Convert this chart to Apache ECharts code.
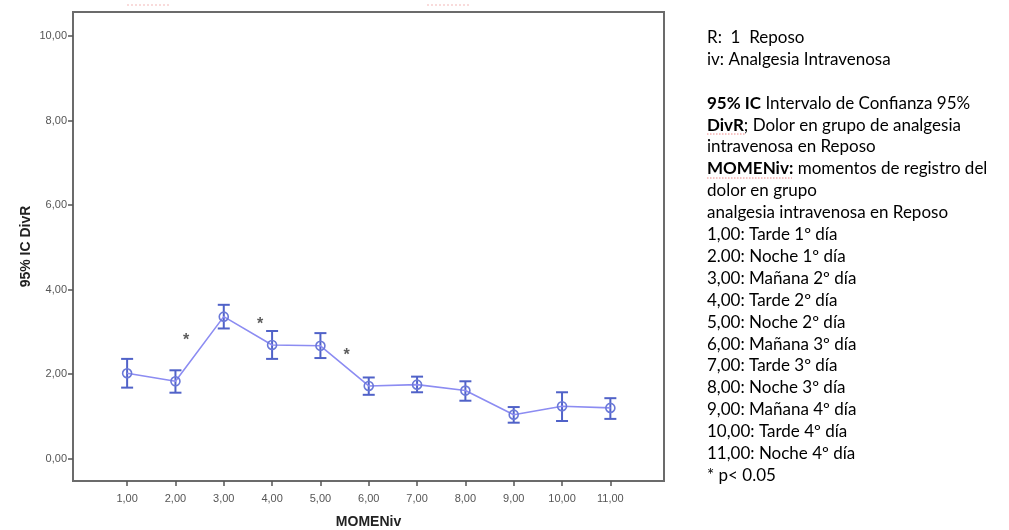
<!DOCTYPE html>
<html>
<head>
<meta charset="utf-8">
<script src="https://cdn.jsdelivr.net/npm/echarts@6/dist/echarts.min.js"></script>
<style>html,body{margin:0;padding:0;background:#fff;}#c{width:1009px;height:530px;}</style>
</head>
<body>
<div id="c"></div>
<script>
const moments = [1,2,3,4,5,6,7,8,9,10,11];
const means = [2.02,1.83,3.36,2.69,2.67,1.72,1.75,1.61,1.04,1.24,1.20];
const upper = [2.36,2.09,3.64,3.02,2.97,1.92,1.94,1.83,1.22,1.57,1.43];
const lower = [1.68,1.56,3.08,2.36,2.38,1.51,1.57,1.37,0.85,0.89,0.94];
const yTicks = [0,2,4,6,8,10];
const sigX = [2.22,3.75,5.54];
const sigY = [2.88,3.27,2.54];
const legendLines = [
  [['blue','R:  1  Reposo']],
  [['n','iv: Analgesia Intravenosa']],
  [['n','']],
  [['b','95% IC'],['n',' Intervalo de Confianza 95%']],
  [['b','DivR'],['n','; Dolor en grupo de analgesia']],
  [['n','intravenosa en Reposo']],
  [['b','MOMENiv:'],['n',' momentos de registro del']],
  [['n','dolor en grupo']],
  [['n','analgesia intravenosa en Reposo']],
  [['n','1,00: Tarde 1º día']],
  [['n','2.00: Noche 1º día']],
  [['n','3,00: Mañana 2º día']],
  [['n','4,00: Tarde 2º día']],
  [['n','5,00: Noche 2º día']],
  [['n','6,00: Mañana 3º día']],
  [['n','7,00: Tarde 3º día']],
  [['n','8,00: Noche 3º día']],
  [['n','9,00: Mañana 4º día']],
  [['n','10,00: Tarde 4º día']],
  [['n','11,00: Noche 4º día']],
  [['n','* p< 0.05']]
];

const fmt = v => v.toFixed(2).replace('.', ',');
const chart = echarts.init(document.getElementById('c'));
const legendText = legendLines.map(l => l.map(([s,t]) => t === '' ? '{n| }' : '{' + s + '|' + t + '}').join('')).join('\n');
const FONT = 'Lato, "Open Sans", sans-serif';
const lineCol = '#8c8cf2';
const barCol = '#5062c8';
const FS = 17;
const squiggle = (x1, x2, y) => ({ type: 'line', shape: { x1: x1, y1: y, x2: x2, y2: y }, style: { stroke: '#e88', lineWidth: 1, lineDash: [1.5, 1.5] } });

chart.setOption({
  animation: false,
  backgroundColor: '#fff',
  grid: { left: 73, top: 12, right: 345, bottom: 49, containLabel: false, outerBoundsMode: 'none', show: true, borderColor: '#6b6b6b', borderWidth: 2, backgroundColor: '#fff' },
  xAxis: {
    type: 'value', min: -0.12, max: 12.11,
    name: 'MOMENiv', nameLocation: 'middle', nameGap: 34,
    nameTextStyle: { fontFamily: 'Liberation Sans, Arial', fontWeight: 'bold', fontSize: 14, color: '#222' },
    axisLine: { show: false, onZero: false },
    splitLine: { show: false },
    axisTick: { show: true, length: 5, customValues: moments, lineStyle: { color: '#555', width: 1.5 } },
    axisLabel: { customValues: moments, formatter: fmt, color: '#555', fontFamily: 'Liberation Sans, Arial', fontSize: 11, margin: 12 }
  },
  yAxis: {
    type: 'value', min: -0.53, max: 10.57,
    name: '95% IC DivR', nameLocation: 'middle', nameGap: 40, nameRotate: 90, nameMoveOverlap: false,
    nameTextStyle: { fontFamily: 'Liberation Sans, Arial', fontWeight: 'bold', fontSize: 14, color: '#222' },
    axisLine: { show: false, onZero: false },
    splitLine: { show: false },
    axisTick: { show: true, length: 5, customValues: yTicks, lineStyle: { color: '#555', width: 1.5 } },
    axisLabel: { customValues: yTicks, formatter: fmt, color: '#555', fontFamily: 'Liberation Sans, Arial', fontSize: 11, margin: 6 }
  },
  series: [
    {
      type: 'custom',
      data: moments.map((m, i) => [m, lower[i], upper[i]]),
      renderItem: (params, api) => {
        const lo = api.coord([api.value(0), api.value(1)]);
        const hi = api.coord([api.value(0), api.value(2)]);
        const hw = 6;
        const st = { stroke: barCol, lineWidth: 2, fill: null };
        return { type: 'group', children: [
          { type: 'line', shape: { x1: hi[0], y1: hi[1], x2: lo[0], y2: lo[1] }, style: st },
          { type: 'line', shape: { x1: hi[0]-hw, y1: hi[1], x2: hi[0]+hw, y2: hi[1] }, style: st },
          { type: 'line', shape: { x1: lo[0]-hw, y1: lo[1], x2: lo[0]+hw, y2: lo[1] }, style: st }
        ]};
      },
      z: 3
    },
    {
      type: 'line',
      data: moments.map((m, i) => [m, means[i]]),
      symbol: 'circle', symbolSize: 9, showAllSymbol: true,
      lineStyle: { color: lineCol, width: 1.6 },
      itemStyle: { color: 'rgba(255,255,255,0)', borderColor: '#6a78d8', borderWidth: 1.6 },
      z: 4
    },
    {
      type: 'scatter',
      data: sigX.map((x, i) => [x, sigY[i]]),
      symbolSize: 0.1,
      label: { show: true, position: 'inside', formatter: '*', fontSize: 16, fontWeight: 'bold', color: '#333', fontFamily: 'Liberation Sans, Arial', offset: [0, 4] },
      z: 5
    }
  ],
  graphic: [
    {
      type: 'text', left: 707, top: 29,
      style: {
        text: legendText,
        rich: {
          n: { fontFamily: FONT, fontSize: FS, color: '#262626', lineHeight: 21.9 },
          b: { fontFamily: FONT, fontSize: FS, fontWeight: 'bold', color: '#1a1a1a', lineHeight: 21.9 },
          blue: { fontFamily: FONT, fontSize: FS, color: '#5b8fd0', lineHeight: 21.9 }
        }
      }
    },
    squiggle(707, 745, 134),
    squiggle(707, 792, 178),
    { type: 'line', shape: { x1: 127, y1: 5, x2: 170, y2: 5 }, style: { stroke: '#f4b8b8', lineWidth: 1, lineDash: [2, 2] } },
    { type: 'line', shape: { x1: 427, y1: 5, x2: 470, y2: 5 }, style: { stroke: '#f4b8b8', lineWidth: 1, lineDash: [2, 2] } }
  ]
});
</script>
</body>
</html>
